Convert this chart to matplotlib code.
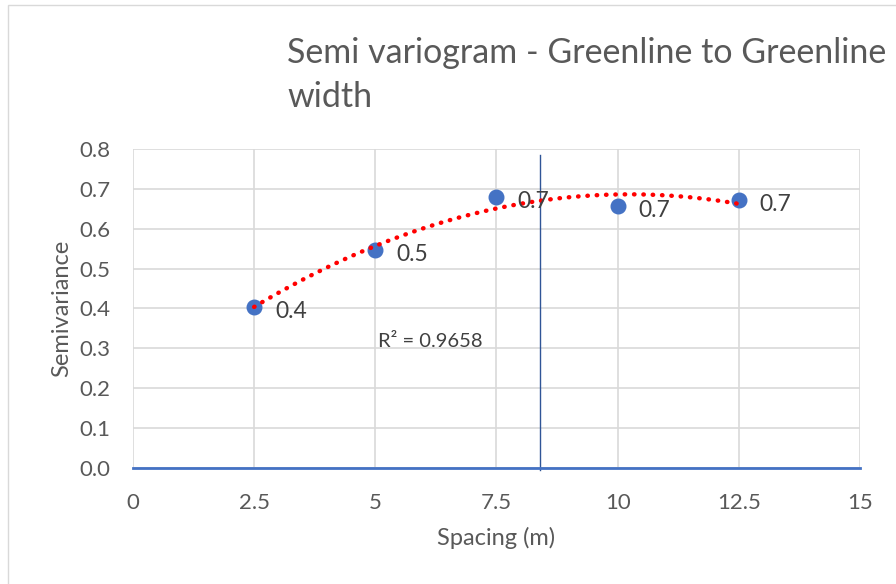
import matplotlib.pyplot as plt
import numpy as np
from matplotlib.patches import Rectangle

# Data
spacing = [2.5, 5, 7.5, 10, 12.5]
semivariance = [0.404, 0.547, 0.680, 0.657, 0.672]
point_labels = ["0.4", "0.5", "0.7", "0.7", "0.7"]
x_ticks = [0, 2.5, 5, 7.5, 10, 12.5, 15]
x_tick_labels = ["0", "2.5", "5", "7.5", "10", "12.5", "15"]
y_ticks = [0.0, 0.1, 0.2, 0.3, 0.4, 0.5, 0.6, 0.7, 0.8]
marker_line_x = 8.4
r2_text = "R² = 0.9658"

BLUE = "#4472C4"
GRID = "#D9D9D9"
TEXT = "#595959"

plt.rcParams["font.family"] = ["Lato", "DejaVu Sans"]

fig = plt.figure(figsize=(8.96, 5.84), dpi=100)
ax = fig.add_axes([0.1484, 0.1986, 0.8114, 0.5463])

# chart area frame
fig.patches.append(Rectangle((8 / 896, -0.01), 1.0, 1.0 - 5 / 584 + 0.01,
                             transform=fig.transFigure, fill=False,
                             edgecolor=GRID, linewidth=1.0))

ax.set_xlim(0, 15)
ax.set_ylim(0, 0.8)
ax.set_xticks(x_ticks)
ax.set_xticklabels(x_tick_labels)
ax.set_yticks(y_ticks)
ax.set_yticklabels([f"{v:.1f}" for v in y_ticks])
ax.grid(True, color=GRID, linewidth=1.2)
ax.set_axisbelow(True)
for side in ["top", "right", "left"]:
    ax.spines[side].set_visible(False)
ax.spines["bottom"].set_color(BLUE)
ax.spines["bottom"].set_linewidth(2)
ax.spines["bottom"].set_zorder(3)
ax.tick_params(length=0, labelsize=16, colors=TEXT)
ax.tick_params(axis="y", pad=16)
ax.tick_params(axis="x", pad=18)

# polynomial (order 2) trendline
coef = np.polyfit(spacing, semivariance, 2)
xs = np.linspace(spacing[0], spacing[-1], 200)
ax.plot(xs, np.polyval(coef, xs), color="red", linewidth=3.2,
        linestyle=(0, (0.1, 2.0)), dash_capstyle="round", zorder=4)

ax.scatter(spacing, semivariance, s=110, color=BLUE, zorder=3)

for x, y, lab in zip(spacing, semivariance, point_labels):
    ax.annotate(lab, (x, y), xytext=(15, -3), textcoords="offset points",
                fontsize=16.5, color="#404040", va="center", ha="left", zorder=5)

ax.axvline(marker_line_x, ymin=-0.005, ymax=0.98, color="#2F5597",
           linewidth=1.0, zorder=2, clip_on=False)

ax.text(5.05, 0.318, r2_text, fontsize=14.5, color="#404040",
        ha="left", va="center")

ax.set_xlabel("Spacing (m)", fontsize=17, color=TEXT, labelpad=10)
ax.set_ylabel("Semivariance", fontsize=17, color=TEXT, labelpad=5)

fig.text(287 / 896, 1 - 53 / 584, "Semi variogram - Greenline to Greenline",
         fontsize=24.5, color=TEXT, ha="left", va="center")
fig.text(287 / 896, 1 - 97 / 584, "width",
         fontsize=24.5, color=TEXT, ha="left", va="center")

fig.savefig("out.png", dpi=100)
